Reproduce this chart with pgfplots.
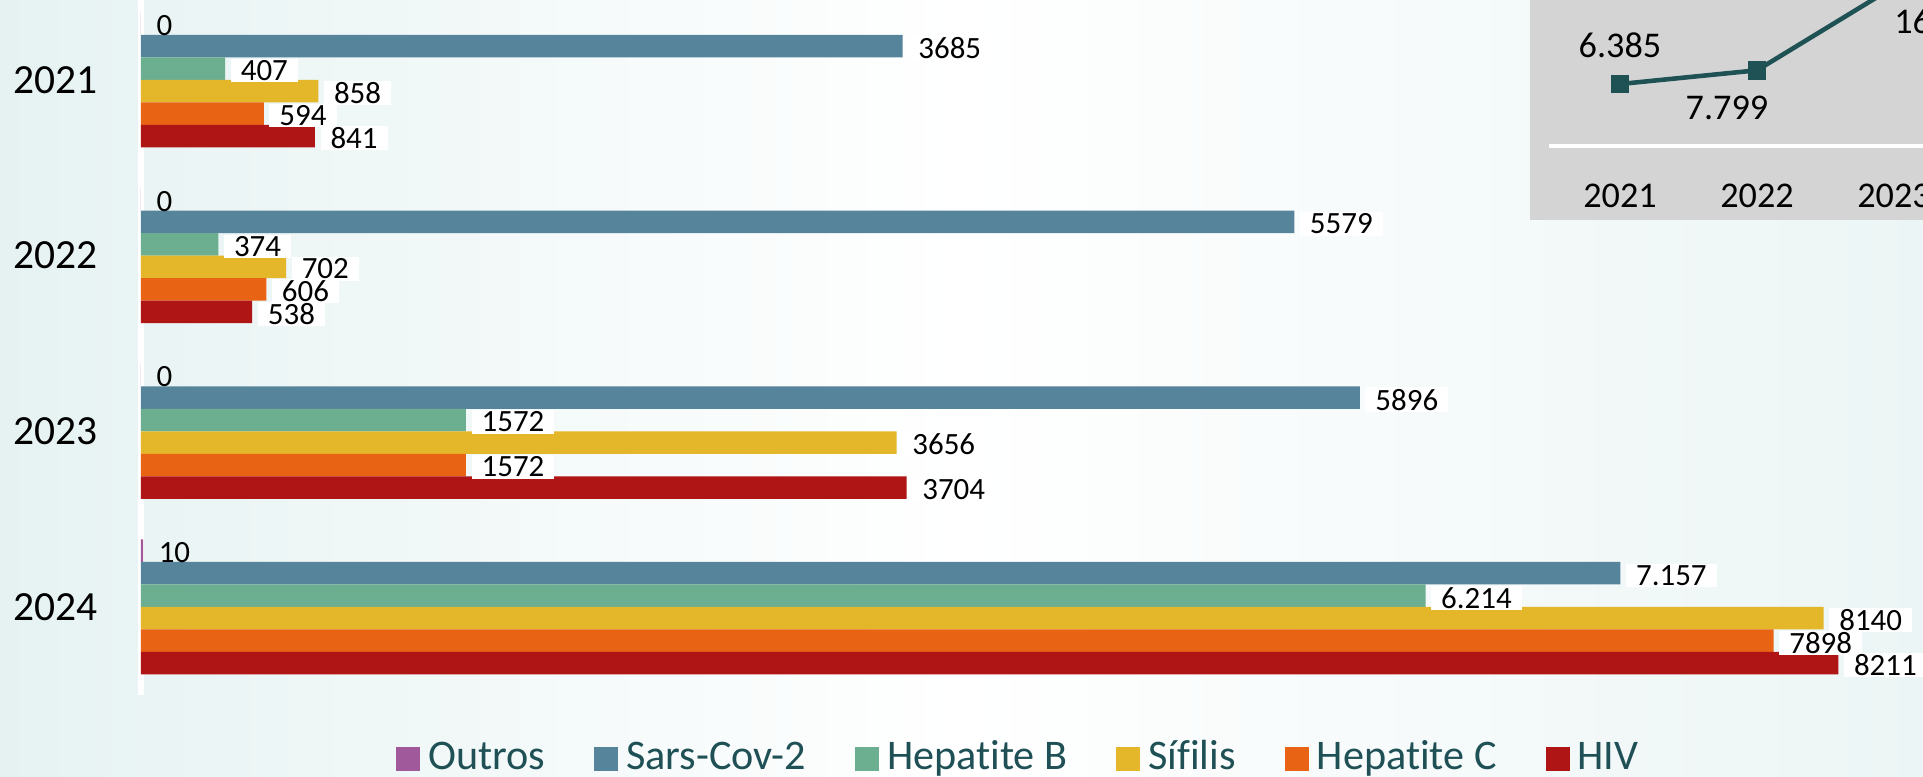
\documentclass[border=0pt]{standalone}
\usepackage{pgfplots}
\pgfplotsset{compat=1.18}
\usepackage{fontspec}
\setmainfont{Carlito}[Ligatures=NoCommon]
\definecolor{cOut}{RGB}{160,90,156}
\definecolor{cSars}{RGB}{85,132,155}
\definecolor{cHepB}{RGB}{107,174,144}
\definecolor{cSif}{RGB}{228,183,42}
\definecolor{cHepC}{RGB}{232,99,20}
\definecolor{cHIV}{RGB}{175,21,20}
\definecolor{cLeg}{RGB}{30,80,85}
\definecolor{cLine}{RGB}{31,82,85}
\definecolor{cInset}{RGB}{212,212,212}
\definecolor{bgL}{RGB}{230,242,242}
\definecolor{bgR}{RGB}{236,245,245}
\begin{document}
\begin{tikzpicture}
\useasboundingbox (0,0) rectangle (19.23,7.76);
\clip (0,0) rectangle (19.23,7.76);
\shade[left color=bgL, right color=bgR, middle color=white] (0,0) rectangle (19.23,7.76);
\fill[cInset] (15.30,5.56) rectangle (19.30,7.80);
\begin{axis}[
  at={(1.41cm,0.81cm)}, anchor=south west,
  scale only axis, width=17cm, height=6.95cm,
  xmin=0, xmax=8224, ymin=-0.501, ymax=3.455,
  xbar=0pt, bar width=0.225cm,
  hide x axis,
  axis y line*=left,
  y axis line style={white, line width=1.5pt, -},
  ytick={0,1,2,3}, yticklabels={2024,2023,2022,2021},
  major tick length=0pt,
  yticklabel style={font=\fontsize{11.8}{14}\selectfont, text=black, inner xsep=0pt, xshift=-0.43cm},
  point meta=explicit symbolic,
  nodes near coords,
  nodes near coords style={anchor=west, font=\fontsize{8.8}{10}\selectfont, text=black, inner xsep=0.1cm, xshift=0.05cm, yshift=-0.02cm, inner ysep=0.015cm, fill=white},
  legend columns=6,
  legend style={at={(0.517,-0.092)}, anchor=center, draw=none, fill=none,
    font=\fontsize{12}{14}\selectfont, text=cLeg,
    /tikz/every odd column/.append style={column sep=0.03cm},
    /tikz/every even column/.append style={column sep=0.44cm},
    nodes={inner xsep=0.05cm, inner ysep=0pt, text depth=0.2ex, text height=1.5ex}},
  legend image code/.code={\fill[#1] (0cm,-0.12cm) rectangle (0.24cm,0.12cm);},
  clip=false,
]
\addplot[fill=cOut, draw=none, bar shift=0.5625cm, nodes near coords style={fill=none}]
  coordinates {(0,3) [0] (0,2) [0] (0,1) [0] (10,0) [10]};
\addlegendentry{Outros}
\addplot[fill=cSars, draw=none, bar shift=0.3375cm]
  coordinates {(3685,3) [3685] (5579,2) [5579] (5896,1) [5896] (7157,0) [7.157]};
\addlegendentry{Sars-Cov-2}
\addplot[fill=cHepB, draw=none, bar shift=0.1125cm]
  coordinates {(407,3) [407] (374,2) [374] (1572,1) [1572] (6214,0) [6.214]};
\addlegendentry{Hepatite B}
\addplot[fill=cSif, draw=none, bar shift=-0.1125cm]
  coordinates {(858,3) [858] (702,2) [702] (3656,1) [3656] (8140,0) [8140]};
\addlegendentry{Sífilis}
\addplot[fill=cHepC, draw=none, bar shift=-0.3375cm]
  coordinates {(594,3) [594] (606,2) [606] (1572,1) [1572] (7898,0) [7898]};
\addlegendentry{Hepatite C}
\addplot[fill=cHIV, draw=none, bar shift=-0.5625cm]
  coordinates {(841,3) [841] (538,2) [538] (3704,1) [3704] (8211,0) [8211]};
\addlegendentry{HIV}
\end{axis}
\begin{axis}[
  at={(15.49cm,6.30cm)}, anchor=south west,
  scale only axis, width=4.82cm, height=1.65cm,
  xmin=2020.482, xmax=2024, ymin=0, ymax=17000,
  axis x line*=bottom, hide y axis,
  x axis line style={white, line width=1pt, -},
  xtick={2021,2022,2023}, xticklabels={2021,2022,2023},
  major tick length=0pt,
  xticklabel style={font=\fontsize{10.3}{12}\selectfont, text=black, inner sep=0pt, anchor=north, yshift=-0.375cm},
  clip=false,
  point meta=explicit symbolic,
  nodes near coords,
  nodes near coords style={font=\fontsize{10.3}{12}\selectfont, text=black, inner sep=0pt},
  coordinate style/.condition={x==2021}{anchor=south, yshift=0.24cm},
  coordinate style/.condition={x==2022}{anchor=north, yshift=-0.23cm, xshift=-0.3cm},
  coordinate style/.condition={x==2023}{anchor=north west, yshift=-0.2cm, xshift=-0.02cm},
]
\addplot[cLine, line width=1.3pt, mark=square*, mark size=2pt, mark options={fill=cLine, solid}]
  coordinates {(2021,6385) [6.385] (2022,7799) [7.799] (2023,16400) [16.400]};
\end{axis}
\end{tikzpicture}
\end{document}
